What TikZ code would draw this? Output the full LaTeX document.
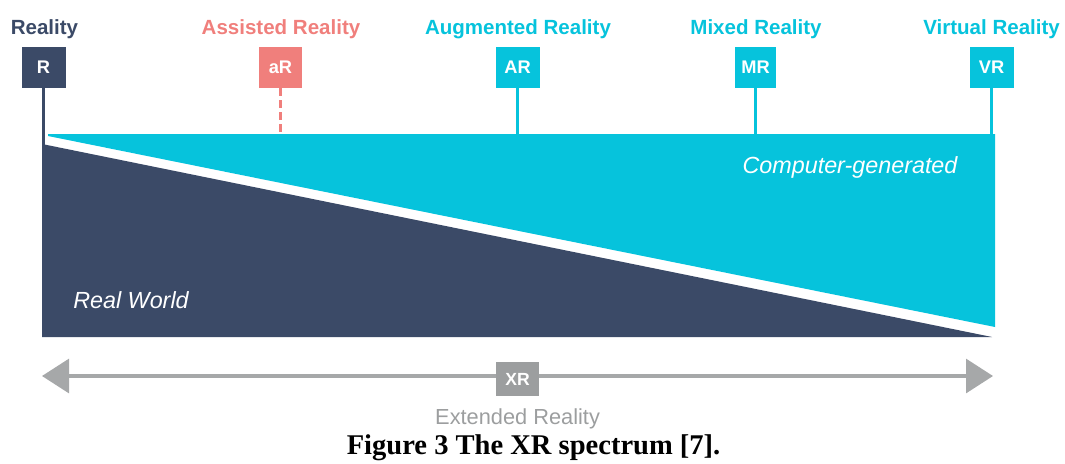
\documentclass[tikz,border=0pt]{standalone}
\usepackage{fontspec}
\setmainfont{Liberation Sans}
\newfontfamily\captionserif{Liberation Serif}
\usepackage{tikz}
\usetikzlibrary{arrows.meta}
\definecolor{xrNavy}{HTML}{3B4A67}
\definecolor{xrCyan}{HTML}{06C3DC}
\definecolor{xrSalmon}{HTML}{F07F7C}
\definecolor{xrGray}{HTML}{9C9E9F}
\definecolor{xrLine}{HTML}{A6A8A9}
\tikzset{
  tag/.style={
    rectangle, fill=#1, text=white,
    inner sep=0pt,
    minimum width=1.1cm, minimum height=1.025cm,
    font=\fontsize{13}{14}\selectfont\bfseries
  },
  toplabel/.style={
    anchor=base, text=#1, inner sep=0pt,
    font=\fontsize{14.6}{16}\selectfont\bfseries
  },
  stem/.style={
    draw=#1, line width=2.5pt
  },
  bandtext/.style={
    text=white, inner sep=0pt,
    font=\fontsize{16.6}{18}\selectfont\itshape
  },
  xrarrow/.style={
    {Triangle[length=6.75mm, width=8.5mm]}-{Triangle[length=6.75mm, width=8.5mm]},
    xrLine, line width=2.2pt
  },
  figcaption/.style={anchor=base, inner sep=0pt, font=\captionserif\fontsize{20.3}{22}\selectfont\bfseries}
}
\begin{document}
\begin{tikzpicture}
  \useasboundingbox (0,0) rectangle (26.625,-11.575);
  % spectrum band
  \fill[xrCyan] (1.2,-3.35) -- (24.875,-3.35) -- (24.875,-8.175) -- (1.2,-3.4) -- cycle;
  \fill[xrNavy] (1.05,-3.6) -- (24.8,-8.425) -- (1.05,-8.425) -- cycle;
  \node[bandtext, anchor=base west] (real) at (1.825,-7.7) {Real World};
  \node[bandtext, anchor=base] (cg) at (21.25,-4.325) {Computer-generated};
  % tags along the spectrum
  \node[tag=xrNavy] (R) at (1.0875,-1.6875) {R};
  \node[tag=xrSalmon, minimum width=1.075cm] (aR) at (7.0125,-1.6875) {aR};
  \node[tag=xrCyan] (AR) at (12.9375,-1.6875) {AR};
  \node[tag=xrCyan, minimum width=1.025cm] (MR) at (18.8875,-1.6875) {MR};
  \node[tag=xrCyan] (VR) at (24.7875,-1.6875) {VR};
  \node[toplabel=xrNavy] (lR) at (1.1125,-0.85) {Reality};
  \node[toplabel=xrSalmon] (laR) at (7.025,-0.85) {Assisted Reality};
  \node[toplabel=xrCyan] (lAR) at (12.95,-0.85) {Augmented Reality};
  \node[toplabel=xrCyan] (lMR) at (18.9,-0.85) {Mixed Reality};
  \node[toplabel=xrCyan] (lVR) at (24.79,-0.85) {Virtual Reality};
  \coordinate (Rfoot) at (1.0875,-3.7);
  \coordinate (aRfoot) at (7.0125,-3.35);
  \coordinate (ARfoot) at (12.9375,-3.35);
  \coordinate (MRfoot) at (18.8875,-3.35);
  \coordinate (VRfoot) at (24.7875,-3.35);
  \draw[stem=xrNavy] (R) -- (Rfoot);
  \draw[stem=xrSalmon, line width=2.1pt, dash pattern=on 5.7pt off 2.8pt] (aR) -- (aRfoot);
  \draw[stem=xrCyan] (AR) -- (ARfoot);
  \draw[stem=xrCyan] (MR) -- (MRfoot);
  \draw[stem=xrCyan] (VR) -- (VRfoot);
  % extended reality arrow
  \coordinate (xrL) at (1.05,-9.4);
  \coordinate (xrR) at (24.825,-9.4);
  \draw[xrarrow] (xrL) -- (xrR);
  \node[tag=xrGray, minimum width=1.075cm, minimum height=0.85cm, font=\fontsize{12.5}{13}\selectfont\bfseries] (XR) at (12.9375,-9.475) {XR};
  \node[anchor=base, inner sep=0pt, text=xrGray, font=\fontsize{15.5}{17}\selectfont] (xrname) at (12.94,-10.6) {Extended Reality};
  \node[figcaption] (cap) at (13.34,-11.36) {Figure 3 The XR spectrum [7].};
\end{tikzpicture}
\end{document}
